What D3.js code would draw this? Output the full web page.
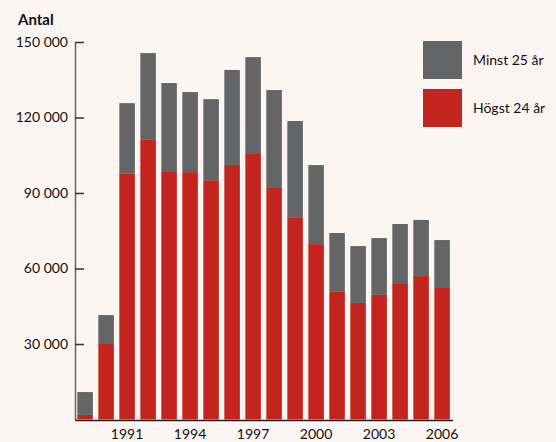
<!DOCTYPE html>
<html>
<head>
<meta charset="utf-8">
<script src="https://cdn.jsdelivr.net/npm/d3@7"></script>
<style>
  html, body { margin: 0; padding: 0; background: #fcf5f1; }
  svg { display: block; font-family: Lato, "Open Sans", sans-serif; }
</style>
</head>
<body>
<div class="chart"></div>
<script>
// data
const years = d3.range(1989, 2007).map(String);
const youngVals = [1800, 30000, 97600, 111100, 98700, 98300, 95100, 101100, 105500, 92000,
    80400, 69700, 50700, 46300, 49500, 54200, 57000, 52600];
const totalVals = [10900, 41500, 125700, 145600, 133700, 130100, 127300, 138900, 144000, 130900,
    118600, 101100, 74100, 68900, 72100, 77700, 79300, 71300];
const seriesNames = ['Minst 25 år', 'Högst 24 år'];
const yTicks = [30000, 60000, 90000, 120000, 150000];
const xTickYears = ['1991', '1994', '1997', '2000', '2003', '2006'];

const colors = { 'Minst 25 år': '#646567', 'Högst 24 år': '#c4241e' };

const rows = years.map((y, i) => ({
    year: y,
    'Högst 24 år': youngVals[i],
    'Minst 25 år': totalVals[i] - youngVals[i]
}));

const width = 556, height = 442;
const svg = d3.select('.chart').append('svg')
    .attr('width', width).attr('height', height);

// scales
const x = d3.scaleBand().domain(years).range([74.6, 452.6])
    .paddingInner(0.26).paddingOuter(0.13);
const y = d3.scaleLinear().domain([0, 150000]).range([419.5, 42]);

// stacked bars, red at bottom
const stacked = d3.stack().keys(['Högst 24 år', 'Minst 25 år'])(rows);
svg.append('g').selectAll('g').data(stacked).join('g')
    .attr('fill', d => colors[d.key])
    .selectAll('rect').data(d => d).join('rect')
    .attr('x', d => x(d.data.year))
    .attr('width', x.bandwidth())
    .attr('y', d => y(d[1]))
    .attr('height', d => y(d[0]) - y(d[1]));

// y axis
const fmt = d3.formatLocale({ decimal: ',', thousands: ' ', grouping: [3], currency: ['', ''] }).format(',');
const yAxis = d3.axisLeft(y).tickValues(yTicks).tickFormat(fmt)
    .tickSizeInner(-9).tickSizeOuter(0).tickPadding(7);
const yG = svg.append('g').attr('transform', 'translate(75,0)').call(yAxis);
yG.select('.domain').attr('stroke', '#666').attr('stroke-width', 1.5);
yG.selectAll('.tick line').attr('stroke', '#333').attr('stroke-width', 1.5);
yG.selectAll('.tick text').attr('font-size', 14).attr('fill', '#111')
    .attr('font-family', 'Lato, sans-serif');

// x axis
const xAxis = d3.axisBottom(x).tickValues(xTickYears).tickSize(0).tickPadding(9);
const xG = svg.append('g').attr('transform', 'translate(0,420)').call(xAxis);
xG.select('.domain').attr('stroke', '#222').attr('stroke-width', 1.5);
xG.selectAll('.tick text').attr('font-size', 14).attr('fill', '#111')
    .attr('font-family', 'Lato, sans-serif');

// y title
svg.append('text').attr('x', 18).attr('y', 25)
    .attr('font-size', 15).attr('font-weight', 'bold').attr('fill', '#111')
    .text('Antal');

// legend
const legend = svg.append('g').attr('transform', 'translate(423,41)');
const li = legend.selectAll('g').data(seriesNames).join('g')
    .attr('transform', (d, i) => `translate(0,${i * 48})`);
li.append('rect').attr('width', 39).attr('height', 38).attr('fill', d => colors[d]);
li.append('text').attr('x', 50).attr('y', 24)
    .attr('font-size', 14).attr('fill', '#111').text(d => d);
</script>
</body>
</html>
